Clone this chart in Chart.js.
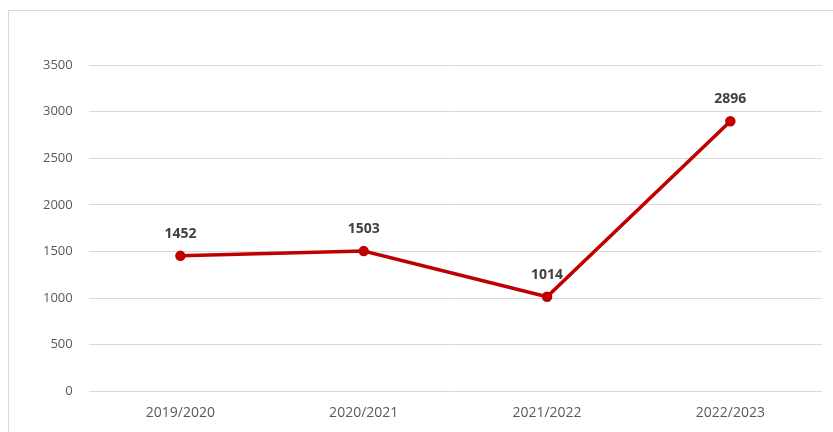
<!DOCTYPE html>
<html>
<head>
<meta charset="utf-8">
<script src="https://cdn.jsdelivr.net/npm/chart.js@4.4.0/dist/chart.umd.min.js"></script>
<style>
  html, body { margin: 0; padding: 0; background: #fff; }
  #wrap { position: relative; width: 833px; height: 432px; overflow: hidden; }
  #frame { position: absolute; left: 8px; top: 10px; width: 900px; height: 500px; border: 1px solid #d9d9d9; box-sizing: border-box; }
  canvas { position: absolute; left: 0; top: 0; }
</style>
</head>
<body>
<div id="wrap">
  <div id="frame"></div>
  <canvas id="line-chart" width="833" height="432"></canvas>
</div>
<script>
const seasons = ["2019/2020", "2020/2021", "2021/2022", "2022/2023"];
const counts = [1452, 1503, 1014, 2896];
const yTicks = [0, 500, 1000, 1500, 2000, 2500, 3000, 3500];

// 점 위에 값 표시
const valueLabels = {
    id: 'valueLabels',
    afterDatasetsDraw(chart) {
        const ctx = chart.ctx;
        const meta = chart.getDatasetMeta(0);
        ctx.save();
        ctx.font = 'bold 14px "Open Sans", sans-serif';
        ctx.fillStyle = '#404040';
        ctx.textAlign = 'center';
        ctx.textBaseline = 'bottom';
        meta.data.forEach(function(pt, i) {
            ctx.fillText(String(counts[i]), pt.x, pt.y - 15);
        });
        ctx.restore();
    }
};

var lineChart = new Chart(document.getElementById("line-chart"), {
    type: 'line',
    data: {
        labels: seasons,
        datasets: [{
            data: counts,
            borderColor: '#C00000',
            backgroundColor: '#C00000',
            borderWidth: 3.5,
            pointRadius: 3.5,
            pointHoverRadius: 3.5,
            tension: 0
        }]
    },
    options: {
        responsive: false,
        animation: false,
        layout: { padding: { top: 65, right: 11, bottom: 6, left: 27 } },
        plugins: { legend: { display: false }, tooltip: { enabled: false } },
        scales: {
            x: {
                offset: true,
                grid: { display: false },
                border: { display: false },
                ticks: { color: '#595959', font: { size: 14, family: '"Open Sans", sans-serif' }, padding: 5 }
            },
            y: {
                min: 0,
                max: 3500,
                afterBuildTicks(scale) { scale.ticks = yTicks.map(v => ({ value: v })); },
                grid: { color: '#d9d9d9', lineWidth: 1, drawTicks: false },
                border: { display: false },
                ticks: {
                    color: '#595959',
                    font: { size: 13, family: '"Open Sans", sans-serif' },
                    padding: 16,
                    callback: function(v) { return String(v); }
                }
            }
        }
    },
    plugins: [valueLabels]
});
</script>
</body>
</html>
